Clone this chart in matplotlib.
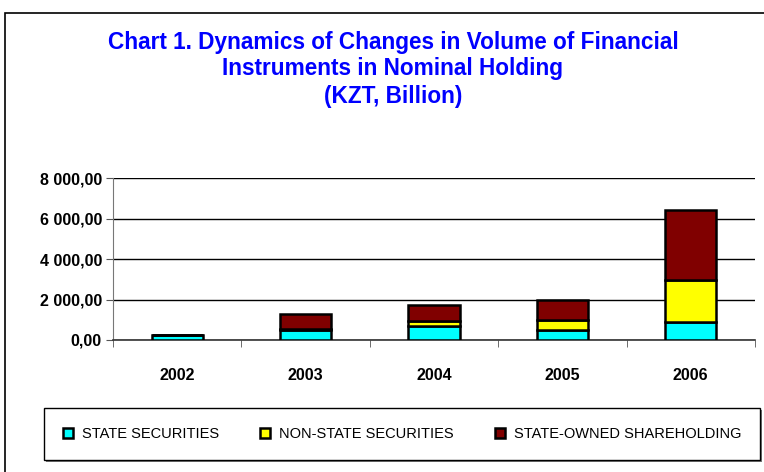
import matplotlib
matplotlib.use('Agg')
import matplotlib.pyplot as plt
from matplotlib.patches import Rectangle
from matplotlib.ticker import FuncFormatter
import numpy as np

plt.rcParams['font.family'] = ['Liberation Sans', 'DejaVu Sans']

years = ['2002', '2003', '2004', '2005', '2006']
state_securities = [260, 470, 700, 470, 900]
non_state_securities = [0, 60, 220, 540, 2070]
state_shareholding = [0, 750, 810, 950, 3450]

series_names = ['STATE SECURITIES', 'NON-STATE SECURITIES', 'STATE-OWNED SHAREHOLDING']
series_colors = ['#00FFFF', '#FFFF00', '#800000']

fig = plt.figure(figsize=(7.64, 4.72), dpi=100)
ax = fig.add_axes([113/764, 132/472, 642/764, 162/472])

x = np.arange(len(years))
bottom = np.zeros(len(years))
for vals, name, col in zip([state_securities, non_state_securities, state_shareholding],
                           series_names, series_colors):
    ax.bar(x, vals, 0.4, bottom=bottom, color=col, edgecolor='black',
           linewidth=1.8, label=name, zorder=3)
    bottom += np.array(vals)

ax.set_xlim(-0.5, len(years) - 0.5)
ax.set_ylim(0, 8000)
ax.set_yticks([0, 2000, 4000, 6000, 8000])
ax.yaxis.set_major_formatter(FuncFormatter(
    lambda v, p: f'{v:,.2f}'.replace(',', ' ').replace('.', ',')))
ax.grid(axis='y', color='black', linewidth=1.0, zorder=0)
ax.set_xticks(x)
ax.set_xticklabels(years, fontweight='bold', fontsize=11.5)
ax.set_xticks(np.arange(-0.5, len(years)), minor=True)
ax.tick_params(axis='x', which='major', length=0, pad=20)
ax.tick_params(axis='x', which='minor', length=5, color='#555555')
ax.tick_params(axis='y', length=5, color='#555555', pad=3)
for lbl in ax.get_yticklabels():
    lbl.set_fontweight('bold')
    lbl.set_fontsize(11.5)
for s in ['top', 'right']:
    ax.spines[s].set_visible(False)
ax.spines['left'].set_color('#777777')
ax.spines['bottom'].set_color('#333333')
ax.spines['bottom'].set_linewidth(1.2)

title_lines = ['Chart 1. Dynamics of Changes in Volume of Financial',
               'Instruments in Nominal Holding',
               '(KZT, Billion)']
for ty, line in zip([42, 69, 97], title_lines):
    fig.text(393/764, 1 - ty/472, line, ha='center', va='center',
             color='#0000FF', fontsize=16.3, fontweight='bold')

# outer chart frame
fig.patches.append(Rectangle((5/764, -0.1), 1.0, 1 - 13/472 + 0.1,
                             transform=fig.transFigure, fill=False,
                             edgecolor='black', linewidth=1.2))

leg = fig.legend(loc='lower left', bbox_to_anchor=(44/764, 12/472, 716/764, 48/472),
                 mode='expand', ncol=3, frameon=True, fancybox=False, shadow=False,
                 fontsize=10.5, handlelength=0.7, handleheight=0.7, borderaxespad=0,
                 handletextpad=0.6, borderpad=1.3)
leg.get_frame().set_edgecolor('black')
leg.get_frame().set_linewidth(1.0)
leg.get_frame().set_alpha(1)
leg.set_zorder(5)

# legend shadow, placed from the drawn legend frame
fig.canvas.draw()
bb = leg.get_frame().get_window_extent()
fig.patches.append(Rectangle(((bb.x0 + 2) / 764, (bb.y0 - 2) / 472),
                             bb.width / 764, bb.height / 472,
                             transform=fig.transFigure, facecolor='#777777',
                             edgecolor='none', zorder=1))

fig.savefig('out.png', dpi=100)
